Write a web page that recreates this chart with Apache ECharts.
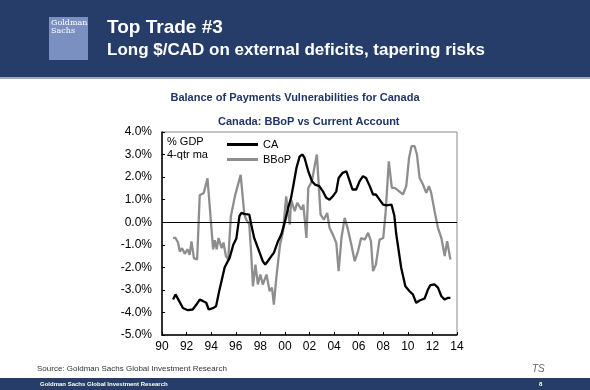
<!DOCTYPE html>
<html><head><meta charset="utf-8">
<script src="https://cdn.jsdelivr.net/npm/echarts@6/dist/echarts.min.js"></script>
<style>html,body{margin:0;padding:0;background:#fff}#c{width:590px;height:390px}</style>
</head><body><div id="c"></div>
<script>
// Current account (% GDP, 4-qtr ma)
const caYears = [1990.9,1991.1,1991.4,1991.7,1992.1,1992.5,1992.8,1993.07,1993.35,1993.6,1993.8,1994.2,1994.4,1994.65,1994.9,1995.1,1995.5,1995.8,1996.05,1996.3,1996.45,1996.7,1997.1,1997.26,1997.5,1997.8,1998.2,1998.4,1998.6,1998.9,1999.1,1999.44,1999.7,1999.98,2000.26,2000.5,2000.7,2000.94,2001.2,2001.43,2001.6,2001.9,2002.2,2002.44,2002.8,2003.09,2003.36,2003.63,2003.9,2004.18,2004.37,2004.7,2005.0,2005.27,2005.5,2005.8,2006.08,2006.35,2006.6,2006.9,2007.17,2007.4,2007.7,2007.99,2008.26,2008.67,2008.9,2009.05,2009.46,2009.8,2010.14,2010.41,2010.68,2010.96,2011.37,2011.64,2011.83,2012.18,2012.45,2012.73,2013.0,2013.27,2013.46];
const caValues = [-3.43,-3.2,-3.5,-3.8,-3.9,-3.87,-3.65,-3.43,-3.5,-3.57,-3.87,-3.8,-3.72,-3.06,-2.47,-2.0,-1.58,-1.0,-0.72,0.27,0.41,0.37,0.34,-0.1,-0.7,-1.14,-1.73,-1.88,-1.73,-1.5,-1.36,-0.84,-0.55,-0.03,0.64,1.08,1.67,2.41,2.92,3.0,2.85,2.26,1.82,1.67,1.6,1.37,1.08,1.0,1.15,1.37,1.96,2.19,2.26,1.82,1.45,1.45,1.82,2.04,1.96,1.6,1.23,1.23,1.0,0.78,0.75,0.78,0.3,-0.5,-2.02,-2.84,-3.06,-3.2,-3.57,-3.47,-3.38,-2.98,-2.79,-2.76,-2.9,-3.28,-3.43,-3.35,-3.35];
// Basic balance of payments (% GDP, 4-qtr ma)
const bbopYears = [1990.9,1991.1,1991.3,1991.45,1991.63,1991.85,1992.07,1992.25,1992.4,1992.6,1992.86,1993.07,1993.4,1993.7,1994.16,1994.3,1994.45,1994.6,1994.85,1995.0,1995.2,1995.39,1995.6,1995.95,1996.4,1996.7,1996.85,1997.1,1997.26,1997.4,1997.6,1997.8,1998.0,1998.2,1998.5,1998.76,1998.95,1999.1,1999.3,1999.6,1999.85,2000.1,2000.4,2000.5,2000.8,2001.0,2001.35,2001.5,2001.75,2001.9,2002.2,2002.44,2002.6,2002.9,2003.17,2003.44,2003.63,2003.9,2004.18,2004.37,2004.6,2004.86,2005.13,2005.4,2005.68,2005.95,2006.2,2006.5,2006.77,2007.0,2007.17,2007.4,2007.7,2008.0,2008.2,2008.45,2008.7,2008.94,2009.3,2009.6,2009.87,2010.1,2010.3,2010.55,2010.74,2010.96,2011.23,2011.5,2011.72,2011.9,2012.18,2012.45,2012.73,2013.0,2013.2,2013.46];
const bbopValues = [-0.69,-0.7,-0.9,-1.3,-1.15,-1.4,-1.2,-1.45,-0.85,-1.6,-1.65,1.2,1.3,1.95,-1.2,-0.8,-1.2,-0.7,-1.15,-0.9,-1.5,-1.65,0.25,1.2,2.1,0.34,0.12,-0.1,-1.43,-2.84,-1.88,-2.76,-2.32,-2.76,-2.32,-3.06,-2.9,-3.65,-2.47,-1.0,-0.4,1.15,-0.1,1.0,0.49,0.86,0.56,0.78,-0.7,1.52,1.82,2.56,3.0,0.34,0.12,0.41,-0.25,-0.55,-0.92,-2.17,-0.7,0.19,-0.33,-0.99,-1.73,-1.28,-0.7,-0.77,-0.47,-0.84,-2.17,-1.88,-0.77,-0.7,0.49,2.7,1.52,1.52,1.37,1.23,1.6,2.85,3.37,3.37,3.0,1.96,1.67,1.3,1.6,1.3,0.49,-0.25,-0.7,-1.5,-0.84,-1.65];
const yTicks = [-5, -4, -3, -2, -1, 0, 1, 2, 3, 4];
const xTicks = [1990, 2014];

const FONT = '"Liberation Sans", Arial, sans-serif';
const NAVY = '#263d6a';
const zip = (xs, ys) => xs.map((x, i) => [x, ys[i]]);

const chart = echarts.init(document.getElementById('c'), null, {renderer: 'canvas'});
chart.setOption({
  backgroundColor: '#ffffff',
  animation: false,
  textStyle: {fontFamily: FONT},
  grid: {left: 162, right: 133, top: 132, bottom: 55, show: true, borderColor: '#8a8a8a', borderWidth: 1},
  legend: {
    orient: 'vertical', left: 222, top: 133, itemWidth: 31, itemHeight: 3, itemGap: 2,
    icon: 'rect', textStyle: {fontFamily: FONT, fontSize: 11, color: '#000', lineHeight: 13},
    data: ['CA', 'BBoP']
  },
  xAxis: {
    type: 'value', min: xTicks[0], max: xTicks[1], interval: 2,
    axisLine: {show: true, onZero: false, lineStyle: {color: '#000', width: 1.5}},
    axisTick: {show: true, inside: true, length: 3, lineStyle: {color: '#000'}},
    splitLine: {show: false},
    axisLabel: {fontFamily: FONT, fontSize: 12, color: '#000', margin: 6,
      formatter: v => String(Math.round(v) % 100).padStart(2, '0')}
  },
  yAxis: {
    type: 'value', min: yTicks[0], max: yTicks[yTicks.length - 1], interval: 1,
    axisLine: {show: true, lineStyle: {color: '#000', width: 1.5}},
    axisTick: {show: true, inside: true, length: 3, lineStyle: {color: '#000'}},
    splitLine: {show: false},
    axisLabel: {fontFamily: FONT, fontSize: 12, color: '#000', margin: 10,
      formatter: v => v.toFixed(1) + '%'}
  },
  series: [
    {
      name: 'BBoP', type: 'line', data: zip(bbopYears, bbopValues), showSymbol: false, symbol: 'none',
      lineStyle: {color: '#8e8e8e', width: 2.3}, itemStyle: {color: '#8e8e8e'}, z: 2,
      markLine: {silent: true, symbol: 'none', label: {show: false},
        lineStyle: {color: '#000', width: 1, type: 'solid'}, data: [{yAxis: 0}]}
    },
    {
      name: 'CA', type: 'line', data: zip(caYears, caValues), showSymbol: false, symbol: 'none',
      lineStyle: {color: '#000', width: 2.3}, itemStyle: {color: '#000'}, z: 3
    }
  ],
  graphic: [
    {type: 'rect', shape: {x: 0, y: 0, width: 590, height: 77}, style: {fill: NAVY}, z: 0},
    {type: 'rect', shape: {x: 0, y: 77, width: 590, height: 2}, style: {fill: '#9aa8c0'}, z: 0},
    {type: 'rect', shape: {x: 49, y: 17, width: 39, height: 43}, style: {fill: '#7b8fc0'}, z: 1},
    {type: 'text', left: 51, top: 19, style: {text: 'Goldman\nSachs', fill: '#fff', font: '8px "DejaVu Serif", serif', lineHeight: 8}, z: 2},
    {type: 'text', left: 107, top: 18, style: {text: 'Top Trade #3', fill: '#fff', font: 'bold 19px ' + FONT}, z: 2},
    {type: 'text', left: 107, top: 42, style: {text: 'Long $/CAD on external deficits, tapering risks', fill: '#fff', font: 'bold 17px ' + FONT}, z: 2},
    {type: 'text', left: 'center', top: 92, style: {text: 'Balance of Payments Vulnerabilities for Canada', fill: '#1f3566', font: 'bold 11px ' + FONT}, z: 2},
    {type: 'text', left: 218, top: 116, style: {text: 'Canada: BBoP vs Current Account', fill: '#1f3566', font: 'bold 11px ' + FONT}, z: 2},
    {type: 'text', left: 167, top: 135, style: {text: '% GDP\n4-qtr ma', fill: '#000', font: '11px ' + FONT, lineHeight: 13}, z: 5},
    {type: 'text', left: 37, top: 365, style: {text: 'Source: Goldman Sachs Global Investment Research', fill: '#333', font: '8px ' + FONT}, z: 2},
    {type: 'text', left: 532, top: 364, style: {text: 'TS', fill: '#666', font: 'italic 10px ' + FONT}, z: 2},
    {type: 'rect', shape: {x: 0, y: 378, width: 590, height: 12}, style: {fill: NAVY}, z: 0},
    {type: 'text', left: 40, top: 381, style: {text: 'Goldman Sachs Global Investment Research', fill: '#fff', font: 'bold 6px ' + FONT}, z: 2},
    {type: 'text', left: 539, top: 381, style: {text: '8', fill: '#fff', font: 'bold 6px ' + FONT}, z: 2}
  ]
});
</script></body></html>
